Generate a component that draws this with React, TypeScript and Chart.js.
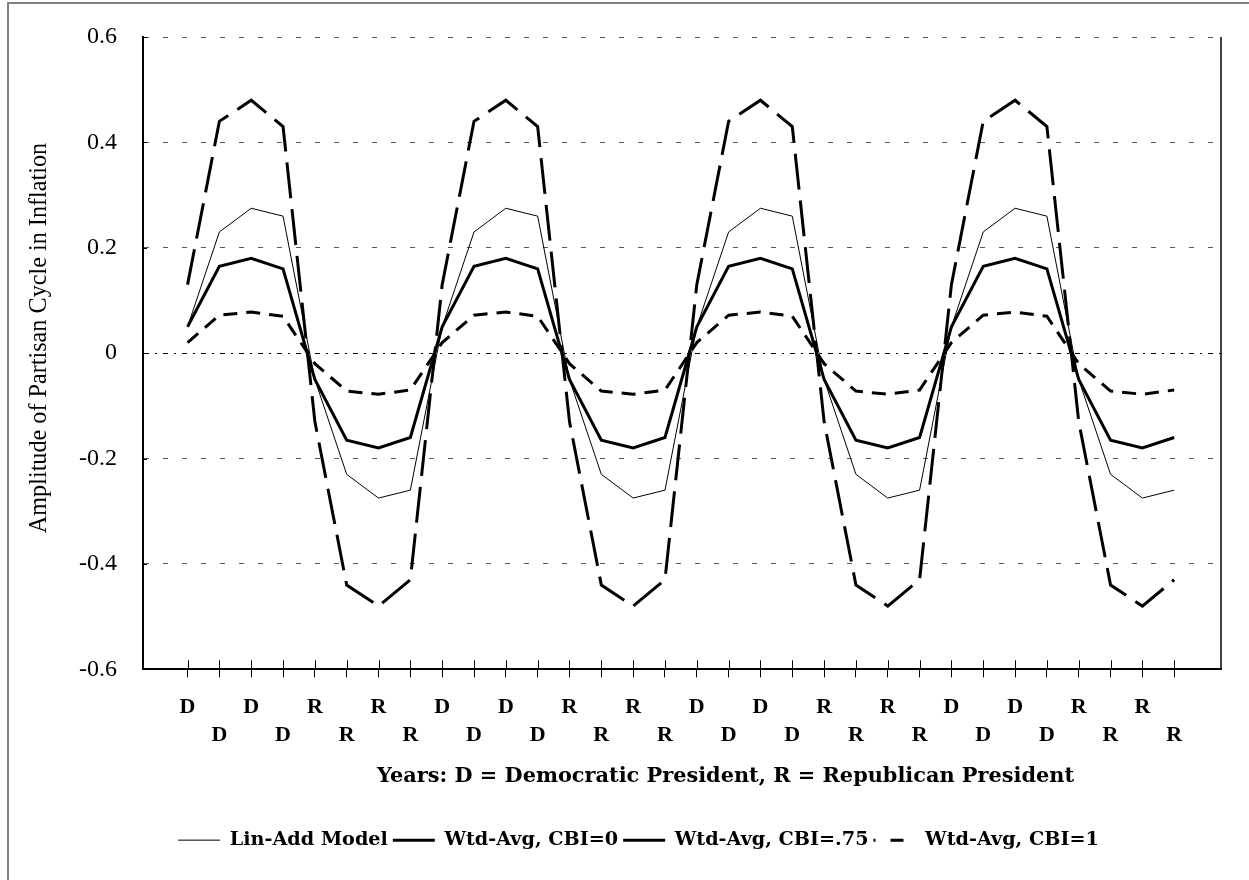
import React, { useEffect, useRef } from "react";
import { Chart, registerables } from "chart.js";

Chart.register(...registerables);

// ---------- data ----------
const CATEGORIES = [
  "D", "D", "D", "D", "R", "R", "R", "R",
  "D", "D", "D", "D", "R", "R", "R", "R",
  "D", "D", "D", "D", "R", "R", "R", "R",
  "D", "D", "D", "D", "R", "R", "R", "R",
];

const LIN_ADD = [
  0.05, 0.23, 0.275, 0.26, -0.05, -0.23, -0.275, -0.26,
  0.05, 0.23, 0.275, 0.26, -0.05, -0.23, -0.275, -0.26,
  0.05, 0.23, 0.275, 0.26, -0.05, -0.23, -0.275, -0.26,
  0.05, 0.23, 0.275, 0.26, -0.05, -0.23, -0.275, -0.26,
];

const CBI_0 = [
  0.05, 0.165, 0.18, 0.16, -0.05, -0.165, -0.18, -0.16,
  0.05, 0.165, 0.18, 0.16, -0.05, -0.165, -0.18, -0.16,
  0.05, 0.165, 0.18, 0.16, -0.05, -0.165, -0.18, -0.16,
  0.05, 0.165, 0.18, 0.16, -0.05, -0.165, -0.18, -0.16,
];

const CBI_075 = [
  0.13, 0.44, 0.48, 0.43, -0.13, -0.44, -0.48, -0.43,
  0.13, 0.44, 0.48, 0.43, -0.13, -0.44, -0.48, -0.43,
  0.13, 0.44, 0.48, 0.43, -0.13, -0.44, -0.48, -0.43,
  0.13, 0.44, 0.48, 0.43, -0.13, -0.44, -0.48, -0.43,
];

const CBI_1 = [
  0.02, 0.072, 0.078, 0.07, -0.02, -0.072, -0.078, -0.07,
  0.02, 0.072, 0.078, 0.07, -0.02, -0.072, -0.078, -0.07,
  0.02, 0.072, 0.078, 0.07, -0.02, -0.072, -0.078, -0.07,
  0.02, 0.072, 0.078, 0.07, -0.02, -0.072, -0.078, -0.07,
];

const SERIES_NAMES = ["Lin-Add Model", "Wtd-Avg, CBI=0", "Wtd-Avg, CBI=.75", "Wtd-Avg, CBI=1"];
const Y_TICKS = [-0.6, -0.4, -0.2, 0, 0.2, 0.4, 0.6];
const Y_TICK_LABELS = ["-0.6", "-0.4", "-0.2", "0", "0.2", "0.4", "0.6"];
const X_TITLE = "Years: D = Democratic President, R = Republican President";
const Y_TITLE = "Amplitude of Partisan Cycle in Inflation";

// ---------- styles ----------
const W = 1249;
const H = 880;
const SERIF = '"Liberation Serif", "Times New Roman", serif';
const WIDE_SERIF = '"DejaVu Serif", serif';

const LINE_WIDTHS = [1, 3, 3, 3];
const LINE_DASHES: number[][] = [[], [], [36, 11], [14, 9]];
const LEGEND_DASHES: number[][] = [[], [], [], [2, 15, 13, 60]];

const extras = {
  id: "extras",
  afterDraw(chart: any) {
    const { ctx, chartArea: a, scales } = chart;
    const x = scales.x;
    const y = scales.y;
    ctx.save();
    // outer frame (left + top)
    ctx.strokeStyle = "#808080";
    ctx.lineWidth = 2;
    ctx.setLineDash([]);
    ctx.beginPath();
    ctx.moveTo(8, H);
    ctx.lineTo(8, 3);
    ctx.lineTo(W, 3);
    ctx.stroke();
    // right plot border
    ctx.strokeStyle = "#000";
    ctx.lineWidth = 1.5;
    ctx.beginPath();
    ctx.moveTo(a.right, a.top);
    ctx.lineTo(a.right, a.bottom);
    ctx.stroke();
    // inner tick marks
    ctx.lineWidth = 1;
    ctx.beginPath();
    x.ticks.forEach((t: any) => {
      const px = Math.round(x.getPixelForValue(t.value)) + 0.5;
      ctx.moveTo(px, a.bottom - 9);
      ctx.lineTo(px, a.bottom);
    });
    y.ticks.forEach((t: any) => {
      const py = Math.round(y.getPixelForValue(t.value)) + 0.5;
      ctx.moveTo(a.left, py);
      ctx.lineTo(a.left + 4, py);
    });
    ctx.stroke();
    ctx.restore();
  },
};

export default function App() {
  const ref = useRef<HTMLCanvasElement | null>(null);

  useEffect(() => {
    document.body.style.margin = "0";
    const canvas = ref.current;
    if (!canvas) return;
    const seriesData = [LIN_ADD, CBI_0, CBI_075, CBI_1];

    const chart = new Chart(canvas, {
      type: "line",
      data: {
        datasets: seriesData.map((vals, k) => ({
          label: SERIES_NAMES[k],
          data: vals.map((v, i) => ({ x: i, y: v })),
          borderColor: "#000",
          backgroundColor: "#000",
          borderWidth: LINE_WIDTHS[k],
          borderDash: LINE_DASHES[k],
          pointRadius: 0,
          pointHoverRadius: 0,
          tension: 0,
          fill: false,
        })),
      },
      options: {
        responsive: false,
        animation: false,
        events: [],
        layout: { padding: { top: 37, left: 56, right: 28, bottom: 20.25 } },
        plugins: {
          tooltip: { enabled: false },
          legend: {
            position: "bottom",
            labels: {
              usePointStyle: true,
              pointStyleWidth: 42,
              padding: 5,
              color: "#000",
              font: { family: WIDE_SERIF, size: 19.2, weight: "bold" },
              generateLabels: () =>
                SERIES_NAMES.map((name, k) => ({
                  text: name,
                  fillStyle: "#000",
                  strokeStyle: "#000",
                  fontColor: "#000",
                  lineWidth: LINE_WIDTHS[k],
                  lineDash: LEGEND_DASHES[k],
                  lineCap: "butt",
                  pointStyle: "line",
                  hidden: false,
                  datasetIndex: k,
                })),
            },
          },
        },
        scales: {
          x: {
            type: "linear",
            min: -1.4,
            max: 32.47,
            afterBuildTicks: (scale: any) => {
              scale.ticks = CATEGORIES.map((_, i) => ({ value: i }));
            },
            afterFit: (scale: any) => {
              scale.height = 156.25;
              scale.paddingLeft = 0;
              scale.paddingRight = 0;
            },
            ticks: {
              autoSkip: false,
              maxRotation: 0,
              minRotation: 0,
              padding: 16,
              color: "#000",
              font: { family: SERIF, size: 22, weight: "bold", lineHeight: 28 / 22 },
              callback: (value: any) => {
                const i = Math.round(Number(value));
                const lab = CATEGORIES[i] ?? "";
                return i % 2 === 0 ? [lab, ""] : ["", lab];
              },
            },
            grid: {
              drawOnChartArea: false,
              drawTicks: true,
              tickLength: 8,
              tickColor: "#000",
              tickWidth: 1,
            },
            border: { display: true, color: "#000", width: 2 },
            title: {
              display: true,
              text: "            " + X_TITLE,
              color: "#000",
              font: { family: WIDE_SERIF, size: 20.85, weight: "bold", lineHeight: 1.2 },
              padding: { top: 0, bottom: 36.95 },
            },
          },
          y: {
            type: "linear",
            min: -0.6,
            max: 0.6,
            afterBuildTicks: (scale: any) => {
              scale.ticks = Y_TICKS.map((v) => ({ value: v }));
            },
            afterFit: (scale: any) => {
              scale.width = 87;
              scale.paddingTop = 0;
              scale.paddingBottom = 0;
            },
            ticks: {
              padding: 26,
              color: "#000",
              font: { family: SERIF, size: 24 },
              callback: (value: any) => {
                const idx = Y_TICKS.findIndex((t) => Math.abs(t - Number(value)) < 1e-9);
                return idx >= 0 ? Y_TICK_LABELS[idx] : "";
              },
            },
            grid: {
              drawTicks: false,
              lineWidth: 1,
              color: (c: any) => (c.tick && c.tick.value === 0 ? "#000" : "#5a5a5a"),
            },
            border: {
              display: true,
              color: "#000",
              width: 2,
              dash: (c: any) => (c.tick && c.tick.value === 0 ? [5, 6, 2, 6] : [5, 14]),
            },
            title: {
              display: true,
              text: "     " + Y_TITLE,
              color: "#000",
              font: { family: SERIF, size: 24.2, lineHeight: 1.2 },
              padding: { top: -30.5, bottom: 0 },
            },
          },
        },
      },
      plugins: [extras],
    } as any);

    return () => chart.destroy();
  }, []);

  return (
    <div style={{ width: W, height: H, background: "#fff" }}>
      <canvas ref={ref} width={W} height={H} style={{ display: "block", width: W, height: H }} />
    </div>
  );
}
